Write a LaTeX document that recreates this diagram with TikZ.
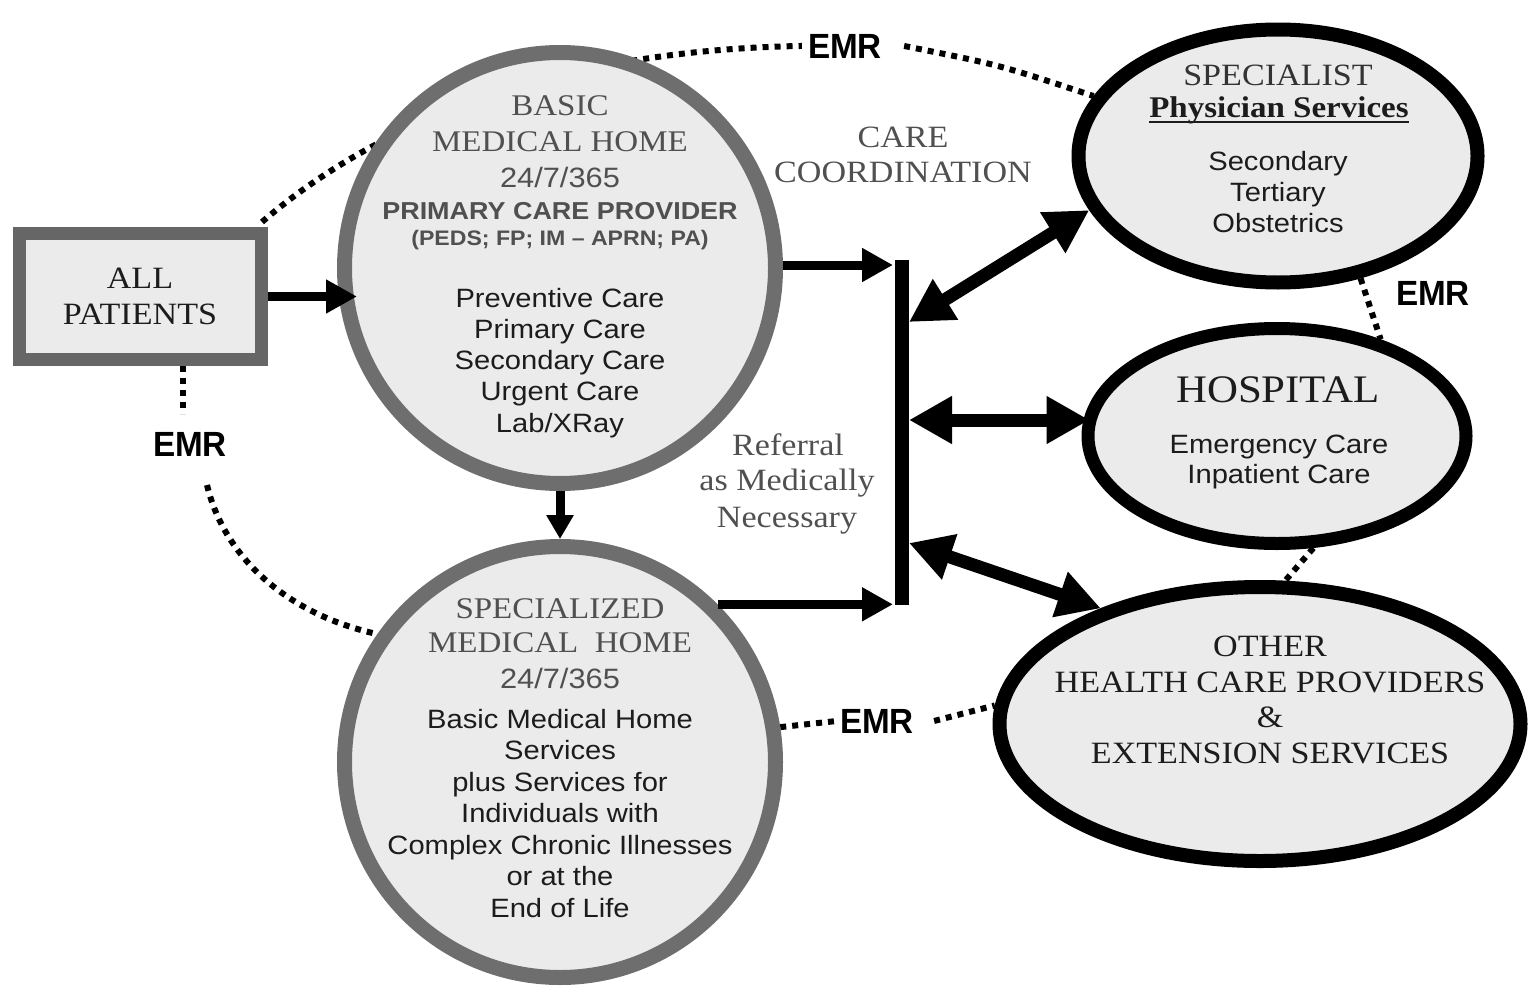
\documentclass[tikz,border=0pt]{standalone}
\usepackage{fontspec}
\setmainfont{Liberation Serif}[FakeStretch=1.1]
\setsansfont{Liberation Sans}[FakeStretch=1.1]
\newfontfamily\emrfont{Liberation Sans}[FakeStretch=0.95]
\usepackage{tikz}
\usetikzlibrary{arrows.meta,shapes.geometric,backgrounds}
\definecolor{fillgray}{HTML}{EBEBEB}
\definecolor{ringgray}{HTML}{6E6E6E}
\definecolor{boxgray}{HTML}{666666}
\definecolor{headgray}{HTML}{505050}
\definecolor{ink}{HTML}{1C1C1C}
\tikzset{
  headLab/.style={font=\fontsize{30}{30}\selectfont, text=headgray, inner sep=0pt, anchor=base},
  inkHead/.style={font=\fontsize{31}{31}\selectfont, text=ink, inner sep=0pt, anchor=base},
  bodyLab/.style={font=\sffamily\fontsize{26.5}{26.5}\selectfont, text=ink, inner sep=0pt, anchor=base},
  emrLab/.style={font=\emrfont\bfseries\fontsize{35}{35}\selectfont, text=black, inner sep=0pt, anchor=base},
  ringShape/.style={circle, draw=ringgray, line width=15pt, fill=fillgray, minimum size=431pt, inner sep=0pt},
  ovalShape/.style={ellipse, draw=black, line width=14pt, fill=fillgray, inner sep=0pt},
  flowArrow/.style={line width=9pt, -{Triangle[length=31pt,width=32pt]}},
  dropArrow/.style={line width=9pt, -{Triangle[length=24pt,width=26pt]}},
  linkArrow/.style={line width=13pt, {Triangle[length=43pt,width=45pt]}-{Triangle[length=43pt,width=45pt]}},
  emrLine/.style={line width=6pt, dash pattern=on 6pt off 6pt}
}

\begin{document}
\begin{tikzpicture}[x=1pt,y=-1pt]
\useasboundingbox (0,0) rectangle (1531,985);

% all patients box
\node[rectangle, draw=boxgray, line width=13pt, fill=fillgray, minimum width=242pt, minimum height=126pt, inner sep=0pt] (allp) at (140.5,296.5) {};
\node[inkHead] (allpA) at (140,288) {ALL};
\node[inkHead] (allpB) at (140,324) {PATIENTS};

% basic medical home
\node[ringShape] (basic) at (560,268) {};
\node[headLab] (basicA) at (560,115) {BASIC};
\node[headLab] (basicB) at (560,151) {MEDICAL HOME};
\node[headLab, font=\sffamily\fontsize{28}{28}\selectfont] (basicC) at (560,187) {24/7/365};
\node[headLab, font=\sffamily\bfseries\fontsize{24.5}{24.5}\selectfont] (basicD) at (560,219) {PRIMARY CARE PROVIDER};
\node[headLab, font=\sffamily\bfseries\fontsize{21}{21}\selectfont] (basicE) at (560,245) {(PEDS; FP; IM \textendash{} APRN; PA)};
\foreach \txt [count=\i] in {Preventive Care, Primary Care, Secondary Care, Urgent Care, Lab/XRay}
  \node[bodyLab] (basic\i) at (560,{307+31.25*(\i-1)}) {\txt};

% specialized medical home
\node[ringShape] (spechome) at (560,762) {};
\node[headLab] (specA) at (560,618) {SPECIALIZED};
\node[headLab] (specB) at (560,652) {MEDICAL\ \ HOME};
\node[headLab, font=\sffamily\fontsize{28}{28}\selectfont] (specC) at (560,688) {24/7/365};
\foreach \txt [count=\i] in {Basic Medical Home, Services, plus Services for, Individuals with, Complex Chronic Illnesses, or at the, End of Life}
  \node[bodyLab] (spechome\i) at (560,{728+31.5*(\i-1)}) {\txt};

% specialist
\node[ovalShape, minimum width=399pt, minimum height=253pt] (spec) at (1278,156) {};
\node[inkHead, text=black!80] (specT) at (1278,85) {SPECIALIST};
\node[inkHead, font=\bfseries\fontsize{30}{30}\selectfont] (phys) at (1279,117) {Physician Services};
\draw[line width=2.5pt, ink] ([yshift=-5pt]phys.base west) -- ([yshift=-5pt]phys.base east);
\foreach \txt [count=\i] in {Secondary, Tertiary, Obstetrics}
  \node[bodyLab] (spec\i) at (1278,{170+31*(\i-1)}) {\txt};

% hospital
\node[ovalShape, line width=13pt, minimum width=378pt, minimum height=215pt] (hosp) at (1277,436) {};
\node[inkHead, font=\fontsize{39}{39}\selectfont] (hospT) at (1278,402) {HOSPITAL};
\node[bodyLab] (hosp1) at (1279,453) {Emergency Care};
\node[bodyLab] (hosp2) at (1279,483) {Inpatient Care};

% other providers
\node[ovalShape, minimum width=521pt, minimum height=274pt] (other) at (1260,724) {};
\node[inkHead] (otherA) at (1270,656) {OTHER};
\node[inkHead] (otherB) at (1270,692) {HEALTH CARE PROVIDERS};
\node[inkHead] (otherC) at (1270,727) {\&};
\node[inkHead] (otherD) at (1270,763) {EXTENSION SERVICES};

% middle labels
\node[headLab, font=\fontsize{31}{31}\selectfont] (careA) at (903,147) {CARE};
\node[headLab, font=\fontsize{31}{31}\selectfont] (careB) at (903,182) {COORDINATION};
\node[headLab, font=\fontsize{31}{31}\selectfont] (refA) at (788,455) {Referral};
\node[headLab, font=\fontsize{31}{31}\selectfont] (refB) at (787,490) {as Medically};
\node[headLab, font=\fontsize{31}{31}\selectfont] (refC) at (787,527) {Necessary};

% emr labels
\node[emrLab] (emrA) at (845,58) {EMR};
\node[emrLab] (emrB) at (190,456) {EMR};
\node[emrLab] (emrC) at (1433,305) {EMR};
\node[emrLab] (emrD) at (877,733) {EMR};

% bar and arrows
\coordinate (barTop) at (902,260);
\coordinate (barBot) at (902,605);
\coordinate (inTop) at (893,265);
\coordinate (inBot) at (893,605);
\coordinate (allpIn) at (357,296.5);
\coordinate (jSpec) at (909,322);
\coordinate (jHosp) at (909,420);
\coordinate (jOther) at (909,543);
\draw[line width=14pt] (barTop) -- (barBot);
\draw[flowArrow] (allp) -- (allpIn);
\draw[flowArrow] (basic.east |- inTop) -- (inTop);
\draw[flowArrow] (spechome.45) -- (spechome.45 -| inBot);
\draw[dropArrow] (basic.south) -- (spechome.north);
\draw[linkArrow] (jSpec) -- (spec.196);
\draw[linkArrow, shorten >=-8pt] (jHosp) -- (jHosp -| hosp.west);
\draw[linkArrow] (jOther) -- (other.144);

% emr links
\coordinate (pTop) at (262,222);
\coordinate (pBot) at (183,366);
\coordinate (pBotEnd) at (183,414);
\coordinate (emrB2) at (207,485);
\begin{scope}[on background layer]
\draw[emrLine] (pTop) .. controls (380,120) and (560,50) .. ([xshift=-6pt]emrA.west);
\draw[emrLine] ([xshift=22pt]emrA.east) .. controls (1000,65) .. (spec.162);
\draw[emrLine] (pBot) -- (pBotEnd);
\draw[emrLine] (emrB2) .. controls (225,560) and (290,615) .. (spechome.145.5);
\draw[emrLine] (spec.304) -- (hosp.43);
\draw[emrLine] (hosp.288) -- (other.80);
\draw[emrLine] (spechome.9) -- ([xshift=-3pt]emrD.west);
\draw[emrLine] ([xshift=20pt]emrD.east) -- (other.176);
\end{scope}
\end{tikzpicture}
\end{document}
